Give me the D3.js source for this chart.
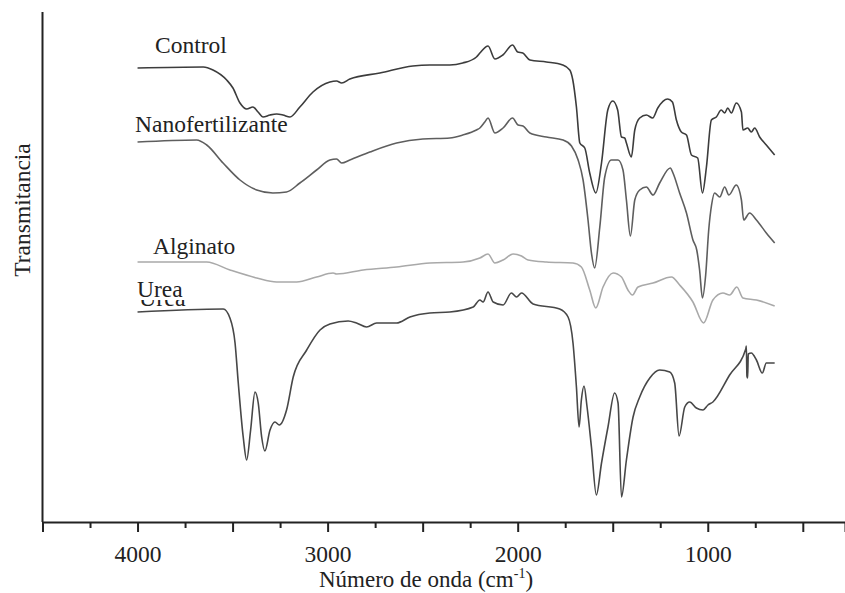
<!DOCTYPE html>
<html>
<head>
<meta charset="utf-8">
<script src="https://cdn.jsdelivr.net/npm/d3@7"></script>
<style>
  body { margin: 0; background: #fff; }
  svg text { font-family: "Liberation Serif", "Times New Roman", "DejaVu Serif", serif; fill: #222; }
</style>
</head>
<body>
<div id="chart"></div>
<script>
// FTIR spectra, [wavenumber cm-1, transmittance (a.u., offset per sample)]
var control = [
  [4000,454],[3654,455],[3603,452],[3531,442],[3498,434],[3461,419],[3426,413],[3393,415],
  [3366,410],[3340,405],[3303,407],[3268,408],[3235,407],[3198,405],[3146,415],[3077,430],
  [2988,440],[2953,441],[2926,439],[2883,443],[2725,449],[2552,456],[2462,457],[2357,457],
  [2289,459],[2217,465],[2199,469],[2156,476],[2120,463],[2078,467],[2027,477],[2000,470],
  [1973,469],[1936,462],[1849,460],[1763,457],[1726,452],[1710,442],[1691,415],[1673,379],
  [1647,374],[1621,349],[1589,329],[1559,359],[1526,412],[1500,421],[1474,412],[1454,385],
  [1437,384],[1428,379],[1402,365],[1384,392],[1358,404],[1323,407],[1290,404],[1263,414],
  [1211,423],[1186,420],[1165,402],[1139,390],[1112,387],[1086,367],[1053,364],[1028,329],
  [1007,355],[981,402],[955,405],[929,412],[911,409],[895,414],[876,409],[850,419],
  [823,410],[815,392],[790,394],[771,390],[753,394],[727,385],[692,377],[648,367]
];
var nanofertilizante = [
  [4000,380],[3689,382],[3636,377],[3550,359],[3461,342],[3373,332],[3288,329],[3216,330],
  [3146,339],[3058,352],[2988,362],[2953,363],[2926,359],[2883,362],[2778,370],[2637,379],
  [2499,383],[2357,384],[2289,387],[2217,392],[2199,394],[2173,400],[2156,404],[2120,389],
  [2077,394],[2027,404],[1998,397],[1972,396],[1936,389],[1849,385],[1761,382],[1717,376],
  [1682,362],[1656,342],[1630,302],[1612,269],[1595,254],[1568,295],[1542,345],[1507,362],
  [1472,362],[1446,352],[1428,322],[1407,286],[1384,322],[1358,332],[1323,335],[1288,327],
  [1253,339],[1197,354],[1183,349],[1148,329],[1112,309],[1078,282],[1058,272],[1043,252],
  [1028,224],[1011,247],[995,292],[980,317],[964,329],[937,325],[911,335],[889,327],
  [850,337],[823,322],[811,302],[780,309],[744,302],[692,289],[648,279]
];
var alginato = [
  [4000,260],[3636,260],[3514,252],[3373,244],[3268,240],[3163,240],[3058,245],[2971,249],
  [2953,248],[2813,252],[2637,255],[2462,259],[2287,260],[2199,264],[2156,268],[2120,259],
  [2077,262],[2024,268],[1980,266],[1945,262],[1849,260],[1709,259],[1665,255],[1621,232],
  [1589,214],[1551,235],[1498,249],[1454,245],[1420,232],[1396,227],[1367,235],[1288,239],
  [1191,245],[1148,237],[1078,220],[1022,199],[973,222],[920,229],[885,227],[847,235],
  [815,224],[744,222],[648,216]
];
var urea = [
  [4000,210],[3549,213],[3514,204],[3487,179],[3470,139],[3444,85],[3426,62],[3405,92],
  [3382,130],[3365,119],[3347,85],[3330,71],[3303,92],[3277,100],[3254,97],[3216,112],
  [3181,145],[3110,172],[3040,192],[2988,198],[2892,201],[2848,199],[2795,195],[2742,199],
  [2637,199],[2567,205],[2462,209],[2357,210],[2234,215],[2199,222],[2182,220],[2156,230],
  [2129,220],[2077,217],[2033,229],[2006,225],[1980,229],[1919,218],[1779,213],[1735,205],
  [1709,179],[1691,135],[1677,95],[1665,122],[1651,136],[1635,115],[1612,75],[1586,27],
  [1559,59],[1525,95],[1490,129],[1472,119],[1454,25],[1428,62],[1393,105],[1358,125],
  [1305,144],[1253,152],[1200,150],[1174,139],[1151,86],[1121,115],[1095,120],[1060,114],
  [1025,112],[999,117],[973,120],[885,147],[800,173],[797,176],[794,146],[790,144],
  [787,168],[771,169],[744,162],[713,149],[692,159],[648,159]
];

var seriesNames = ["Control", "Nanofertilizante", "Alginato", "Urea"];
var seriesData = [control, nanofertilizante, alginato, urea];
var seriesColors = ["#3c3c3c", "#5e5e5e", "#a9a9a9", "#474747"];
var tickLabels = [4000, 3000, 2000, 1000];

var serif = "Liberation Serif, Times New Roman, DejaVu Serif, serif";
var fs = 23.5;
var w = 845, h = 593;
var svg = d3.select("#chart").append("svg").attr("width", w).attr("height", h)
  .attr("font-family", serif);

var x = d3.scaleLinear().domain([4500, 278]).range([42.5, 845]);
var y = d3.scaleLinear().domain([0, 510]).range([522, 12]);

// curves
var line = d3.line()
  .x(function(d) { return x(d[0]); })
  .y(function(d) { return y(d[1]); })
  .curve(d3.curveMonotoneX);

svg.selectAll("path.spectrum").data(seriesData).enter()
  .append("path").attr("class", "spectrum")
  .attr("d", line)
  .attr("fill", "none")
  .attr("stroke", function(d, i) { return seriesColors[i]; })
  .attr("stroke-width", 1.6)
  .attr("stroke-linejoin", "round");

// axes
var minorTicks = d3.range(4250, 400, -250);
var xAxis = d3.axisBottom(x).tickValues(minorTicks).tickSize(10)
  .tickFormat(function(d) { return tickLabels.indexOf(d) >= 0 ? d : ""; });

var gx = svg.append("g").attr("transform", "translate(0," + y(0) + ")").call(xAxis);
gx.attr("font-family", serif);
gx.select(".domain").attr("stroke", "#222").attr("stroke-width", 2);
gx.selectAll(".tick line").attr("stroke", "#222").attr("stroke-width", 2)
  .attr("y2", function(d) { return d % 500 === 0 ? 10 : 6; });
gx.selectAll(".tick text").attr("font-size", fs).attr("y", 40).attr("dy", 0)
  .attr("font-family", serif).attr("fill", "#222");

svg.append("line")
  .attr("x1", x(4500)).attr("x2", x(4500))
  .attr("y1", y(510)).attr("y2", y(0))
  .attr("stroke", "#222").attr("stroke-width", 2);

// axis titles
var xt = svg.append("text").attr("x", 426).attr("y", 587)
  .attr("text-anchor", "middle").attr("font-size", 23);
xt.append("tspan").text("Número de onda (cm");
xt.append("tspan").text("-1").attr("font-size", 14).attr("dy", -9);
xt.append("tspan").text(")").attr("dy", 9);

svg.append("text")
  .attr("transform", "translate(30,210) rotate(-90)")
  .attr("text-anchor", "middle").attr("font-size", fs)
  .text("Transmitancia");

// sample labels
var labelPos = [[155, 53], [135, 132], [153, 254], [137, 297]];

// partly hidden older "Urea" label under the new one
svg.append("clipPath").attr("id", "ghostClip")
  .append("rect").attr("x", 130).attr("y", 300).attr("width", 80).attr("height", 7);
svg.append("text").attr("x", 139).attr("y", 306).attr("font-size", 24)
  .attr("clip-path", "url(#ghostClip)").text("Urea");

svg.selectAll("text.label").data(seriesNames).enter()
  .append("text").attr("class", "label")
  .attr("x", function(d, i) { return labelPos[i][0]; })
  .attr("y", function(d, i) { return labelPos[i][1]; })
  .attr("font-size", fs)
  .text(function(d) { return d; });
</script>
</body>
</html>
